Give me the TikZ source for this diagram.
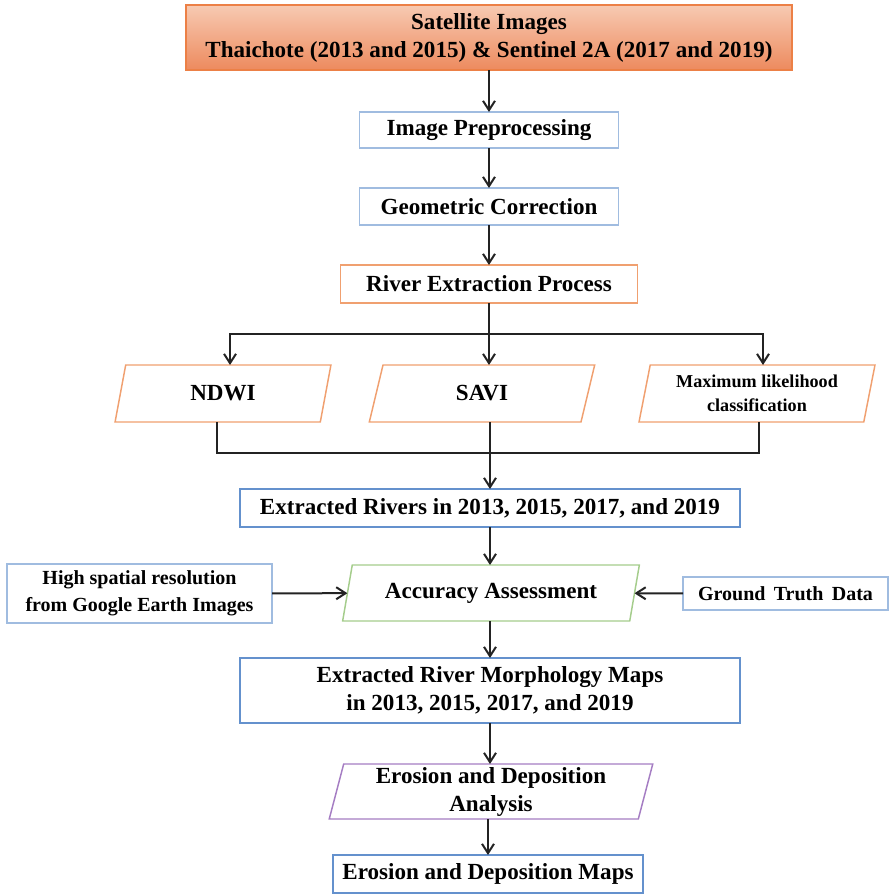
\documentclass[tikz,border=0pt]{standalone}
\usepackage{fontspec}
\setmainfont{Liberation Serif}
\usetikzlibrary{shapes.geometric,arrows.meta}

\definecolor{satTop}{RGB}{247,202,178}
\definecolor{satBot}{RGB}{237,138,94}
\definecolor{satLine}{RGB}{236,128,70}
\definecolor{lightBlue}{RGB}{160,188,224}
\definecolor{midBlue}{RGB}{100,145,205}
\definecolor{lightOrange}{RGB}{240,160,112}
\definecolor{lightGreen}{RGB}{165,205,140}
\definecolor{lightPurple}{RGB}{165,125,195}
\definecolor{lineGray}{RGB}{35,35,35}

\begin{document}
\begin{tikzpicture}[x=0.75pt,y=-0.75pt,
    every node/.style={font=\fontsize{17.3}{21}\selectfont\bfseries,align=center,
      inner sep=0pt,outer sep=0pt},
    box/.style={draw,rectangle,line width=1.1pt,fill=white},
    para/.style={draw,trapezium,trapezium stretches=true,line width=1.1pt,fill=white,
      trapezium left angle=#1,trapezium right angle=180-#1},
    arr/.style={-{Straight Barb[length=7pt,width=9pt]},line width=1.5pt,lineGray},
    ln/.style={line width=1.5pt,lineGray}]
  \useasboundingbox (0,0) rectangle (889,894);

  % main column
  \node[box,draw=satLine,top color=satTop,bottom color=satBot,
        minimum width=454.5pt,minimum height=48.75pt] (sat) at (489,37.5)
        {Satellite Images\\Thaichote (2013 and 2015) \& Sentinel 2A (2017 and 2019)};
  \node[box,draw=lightBlue,minimum width=194.25pt,minimum height=27pt] (img) at (489,130)
        {Image Preprocessing};
  \node[box,draw=lightBlue,minimum width=194.25pt,minimum height=27.75pt] (geo) at (489,206.5)
        {Geometric Correction};
  \node[box,draw=lightOrange,minimum width=222.75pt,minimum height=28.5pt] (riv) at (489,284)
        {River Extraction Process};

  % three methods
  \node[para=77,draw=lightOrange,minimum width=162.75pt,minimum height=42.75pt] (ndwi) at (223,393.5)
        {NDWI};
  \node[para=77,draw=lightOrange,minimum width=169.5pt,minimum height=42.75pt] (savi) at (482,393.5)
        {SAVI};
  \node[para=77,draw=lightOrange,minimum width=177pt,minimum height=42.75pt,
        font=\fontsize{13.6}{18}\selectfont\bfseries] (mlc) at (757,393.5)
        {Maximum likelihood\\classification};

  \node[box,draw=midBlue,minimum width=375pt,minimum height=28.5pt] (rivers) at (490,508)
        {Extracted Rivers in 2013, 2015, 2017, and 2019};

  % accuracy row
  \node[para=70,draw=lightGreen,minimum width=222.75pt,minimum height=42pt] (acc) at (491,593)
        {Accuracy Assessment};
  \node[box,draw=lightBlue,minimum width=198.75pt,minimum height=44.25pt,
        font=\fontsize{15}{20}\selectfont\bfseries] (high) at (139.5,593.5)
        {High spatial resolution\\from Google Earth Images};
  \node[box,draw=lightBlue,minimum width=153.75pt,minimum height=24.75pt,
        font=\fontsize{15}{20}\selectfont\bfseries] (gt) at (785.5,593.5)
        {Ground\, Truth\, Data};

  \node[box,draw=midBlue,minimum width=375pt,minimum height=48.75pt] (morph) at (490,690.5)
        {Extracted River Morphology Maps\\in 2013, 2015, 2017, and 2019};
  \node[para=77,draw=lightPurple,minimum width=243pt,minimum height=41.25pt] (ero) at (491,791.5)
        {Erosion and Deposition\\Analysis};
  \node[box,draw=midBlue,minimum width=232.5pt,minimum height=28.5pt] (maps) at (488,874)
        {Erosion and Deposition Maps};

  \coordinate (split) at (489,334);
  \coordinate (merge) at (490,453);

  % connectors
  \draw[arr] (sat) -- (img);
  \draw[arr] (img) -- (geo);
  \draw[arr] (geo) -- (riv);
  \draw[ln] (riv) -- (split);
  \draw[arr] (split) -| ([xshift=5.25pt]ndwi.north);
  \draw[arr] (split) -- (split |- savi.north);
  \draw[arr] (split) -| ([xshift=4.5pt]mlc.north);
  \draw[ln] ([xshift=-4.5pt]ndwi.south) |- (merge) -| ([xshift=1.5pt]mlc.south);
  \draw[ln] ([xshift=6pt]savi.south) -- ([xshift=6pt]savi.south |- merge);
  \draw[arr] (merge) -- (rivers);
  \draw[arr] (rivers) -- (rivers.south |- acc.north);
  \draw[arr] (high) -- (acc);
  \draw[arr] (gt) -- (acc);
  \draw[arr] (acc.south -| morph) -- (morph);
  \draw[arr] (morph) -- (morph.south |- ero.north);
  \draw[arr] (ero.south -| maps) -- (maps);
\end{tikzpicture}
\end{document}
